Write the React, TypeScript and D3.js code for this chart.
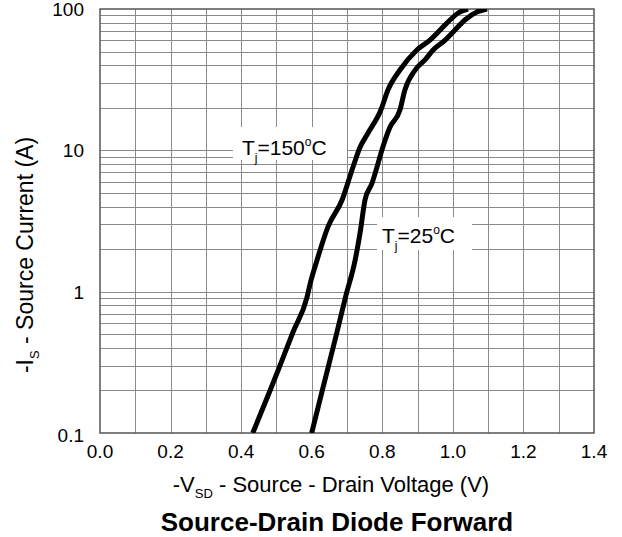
import { useEffect, useRef } from 'react';
import * as d3 from 'd3';

// -VSD (V) vs -IS (A)
const vSd150 = [0.433, 0.482, 0.51, 0.546, 0.587, 0.596, 0.615, 0.646, 0.686, 0.717, 0.737, 0.76, 0.796, 0.816, 0.85, 0.898, 0.935, 0.964, 0.992, 1.015, 1.043];
const iS150 = [0.1, 0.2, 0.3, 0.51, 0.92, 1.15, 1.67, 2.87, 4.45, 7.62, 10.5, 13.3, 19.3, 26.7, 37, 51.3, 60.3, 71, 83.6, 93.7, 100];

const vSd25 = [0.6, 0.63, 0.671, 0.696, 0.723, 0.737, 0.751, 0.771, 0.785, 0.799, 0.822, 0.85, 0.864, 0.893, 0.921, 0.944, 0.978, 1.006, 1.034, 1.068, 1.097];
const iS25 = [0.1, 0.2, 0.51, 0.92, 1.67, 2.6, 4.45, 5.87, 7.62, 10.05, 14.6, 19.3, 26.7, 37, 43.6, 51.3, 60.3, 71, 83.6, 95.2, 100];

const xTicks = [0, 0.2, 0.4, 0.6, 0.8, 1.0, 1.2, 1.4];
const xTickLabels = ['0.0', '0.2', '0.4', '0.6', '0.8', '1.0', '1.2', '1.4'];
const yTicks = [0.1, 1, 10, 100];
const yTickLabels = ['0.1', '1', '10', '100'];

const W = 622;
const H = 537;
const FONT = 'Liberation Sans, Arial, sans-serif';

export default function App() {
  const svgRef = useRef<SVGSVGElement>(null);

  useEffect(() => {
    if (!svgRef.current) return;
    const svg = d3.select(svgRef.current);
    svg.selectAll('*').remove();

    const left = 100, right = 594, top = 9, bottom = 433;
    const x = d3.scaleLinear().domain([0, 1.4]).range([left, right]);
    const y = d3.scaleLog().domain([0.1, 100]).range([bottom, top]);

    // grid
    const grid = svg.append('g').attr('stroke', '#8a8a8a').attr('stroke-width', 1);
    d3.range(1, 14).forEach(i => {
      const xv = Math.round(x(i / 10)) + 0.5;
      grid.append('line').attr('x1', xv).attr('x2', xv).attr('y1', top).attr('y2', bottom);
    });
    const minors: number[] = [];
    [0.1, 1, 10].forEach(d => d3.range(2, 10).forEach(k => minors.push(d * k)));
    [1, 10].forEach(v => minors.push(v));
    minors.forEach(v => {
      const yv = Math.round(y(v)) + 0.5;
      grid.append('line').attr('x1', left).attr('x2', right).attr('y1', yv).attr('y2', yv);
    });

    // label backgrounds
    svg.append('rect').attr('x', 233).attr('y', 127).attr('width', 114).attr('height', 33).attr('fill', '#fff');
    svg.append('rect').attr('x', 377).attr('y', 217).attr('width', 95).attr('height', 33).attr('fill', '#fff');

    // frame
    svg.append('rect')
      .attr('x', left).attr('y', top)
      .attr('width', right - left).attr('height', bottom - top)
      .attr('fill', 'none').attr('stroke', '#555').attr('stroke-width', 1.5);

    // curves
    svg.append('clipPath').attr('id', 'plot-clip')
      .append('rect').attr('x', left).attr('y', top).attr('width', right - left).attr('height', bottom - top);

    const line = d3.line<[number, number]>()
      .x(d => x(d[0]))
      .y(d => y(d[1]))
      .curve(d3.curveMonotoneX);

    [[vSd150, iS150], [vSd25, iS25]].forEach(([vs, is]) => {
      const pts = vs.map((v, i) => [v, is[i]] as [number, number]);
      svg.append('path')
        .attr('d', line(pts))
        .attr('clip-path', 'url(#plot-clip)')
        .attr('fill', 'none')
        .attr('stroke', '#000')
        .attr('stroke-width', 5)
        .attr('stroke-linejoin', 'round');
    });

    // tick labels
    xTicks.forEach((t, i) => {
      svg.append('text')
        .attr('x', x(t)).attr('y', 458)
        .attr('text-anchor', 'middle')
        .attr('font-family', FONT).attr('font-size', 19)
        .text(xTickLabels[i]);
    });
    yTicks.forEach((t, i) => {
      svg.append('text')
        .attr('x', 84).attr('y', y(t) + 7 + (i === 0 ? 2 : 0))
        .attr('text-anchor', 'end')
        .attr('font-family', FONT).attr('font-size', 19)
        .text(yTickLabels[i]);
    });

    // curve labels
    const tLabel = (tx: number, ty: number, temp: string) => {
      const t = svg.append('text').attr('x', tx).attr('y', ty)
        .attr('font-family', FONT).attr('font-size', 21);
      t.append('tspan').text('T');
      t.append('tspan').attr('font-size', 12).attr('dy', 7).text('j');
      t.append('tspan').attr('dy', -7).text('=' + temp);
      t.append('tspan').attr('font-size', 12).attr('dy', -9).text('o');
      t.append('tspan').attr('dy', 9).text('C');
    };
    tLabel(242, 155, '150');
    tLabel(382, 243, '25');

    // axis titles
    const xt = svg.append('text').attr('x', 331).attr('y', 492)
      .attr('text-anchor', 'middle').attr('font-family', FONT).attr('font-size', 22);
    xt.append('tspan').text('-V');
    xt.append('tspan').attr('font-size', 13).attr('dy', 6).text('SD');
    xt.append('tspan').attr('dy', -6).text(' - Source - Drain Voltage (V)');

    const yt = svg.append('text')
      .attr('transform', 'translate(33,255) rotate(-90)')
      .attr('text-anchor', 'middle').attr('font-family', FONT).attr('font-size', 23);
    yt.append('tspan').text('-I');
    yt.append('tspan').attr('font-size', 13).attr('dy', 6).text('S');
    yt.append('tspan').attr('dy', -6).text(' - Source Current (A)');

    svg.append('text').attr('x', 337).attr('y', 531)
      .attr('text-anchor', 'middle').attr('font-family', FONT)
      .attr('font-size', 26).attr('font-weight', 'bold')
      .text('Source-Drain Diode Forward');
  }, []);

  return (
    <>
      <style>{'body{margin:0}'}</style>
      <svg ref={svgRef} width={W} height={H} style={{ display: 'block', background: '#fff' }} />
    </>
  );
}
